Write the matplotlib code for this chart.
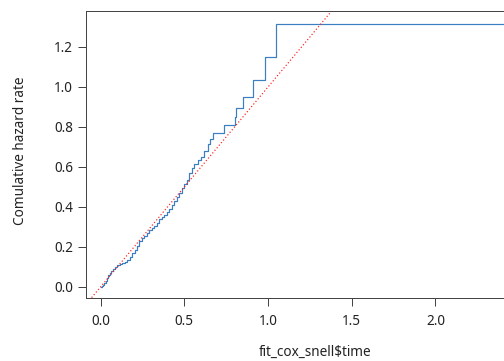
import matplotlib
matplotlib.use("Agg")
import matplotlib.pyplot as plt

# cumulative hazard of the Cox-Snell residuals (step points)
times = [0.000, 0.007, 0.015, 0.022, 0.030, 0.038, 0.045, 0.055, 0.065, 0.075,
         0.088, 0.100, 0.115, 0.130, 0.145, 0.160, 0.175, 0.190, 0.205, 0.215,
         0.228, 0.245, 0.260, 0.275, 0.290, 0.305, 0.320, 0.335, 0.350, 0.365,
         0.380, 0.395, 0.410, 0.425, 0.440, 0.455, 0.470, 0.485, 0.500, 0.515,
         0.530, 0.545, 0.560, 0.580, 0.600, 0.620, 0.640, 0.655, 0.672, 0.735,
         0.801, 0.807, 0.851, 0.909, 0.984, 1.048, 2.550]
hazard = [0.000, 0.005, 0.012, 0.020, 0.030, 0.045, 0.058, 0.068, 0.080, 0.092,
          0.100, 0.108, 0.113, 0.118, 0.125, 0.135, 0.150, 0.170, 0.185, 0.205,
          0.228, 0.243, 0.255, 0.270, 0.285, 0.293, 0.305, 0.322, 0.338, 0.352,
          0.362, 0.375, 0.390, 0.410, 0.430, 0.450, 0.470, 0.495, 0.515, 0.535,
          0.570, 0.595, 0.615, 0.635, 0.650, 0.680, 0.715, 0.740, 0.768, 0.810,
          0.850, 0.893, 0.949, 1.035, 1.152, 1.317, 1.317]

xticks = [0.0, 0.5, 1.0, 1.5, 2.0]
yticks = [0.0, 0.2, 0.4, 0.6, 0.8, 1.0, 1.2]

plt.rcParams['font.family'] = ['Noto Sans', 'DejaVu Sans']
plt.rcParams['font.size'] = 13.5

fig = plt.figure(figsize=(504 / 72, 361 / 72), dpi=72)
ax = fig.add_axes([86 / 504, 63 / 361, (544 - 86) / 504, 287 / 361])

ax.step(times, hazard, where='post', color='#3b7fc2', lw=1.2)
# reference line y = x
ax.plot([-1, 3], [-1, 3], color='#ff2020', lw=1.2, linestyle=(0, (1, 1.8)))

ax.set_xlim(-0.0866, 2.6478)
ax.set_ylim(-0.055, 1.38)
ax.set_xticks(xticks)
ax.set_yticks(yticks)
ax.set_xticklabels(['%.1f' % v for v in xticks])
ax.set_yticklabels(['%.1f' % v for v in yticks])

for s in ax.spines.values():
    s.set_color('#444444')
    s.set_linewidth(1.0)
ax.tick_params(direction='out', length=8, width=1.0, color='#444444',
               labelcolor='#222222')
ax.tick_params(axis='x', pad=8)
ax.tick_params(axis='y', pad=5)

fig.text(315 / 504, 1 - 352 / 361, r'fit_cox_snell\$time', ha='center',
         va='center', color='#222222')
fig.text(21 / 504, 1 - 151 / 361, 'Comulative hazard rate', ha='center',
         va='center', rotation=90, color='#222222')

fig.savefig('out.png', dpi=72)
